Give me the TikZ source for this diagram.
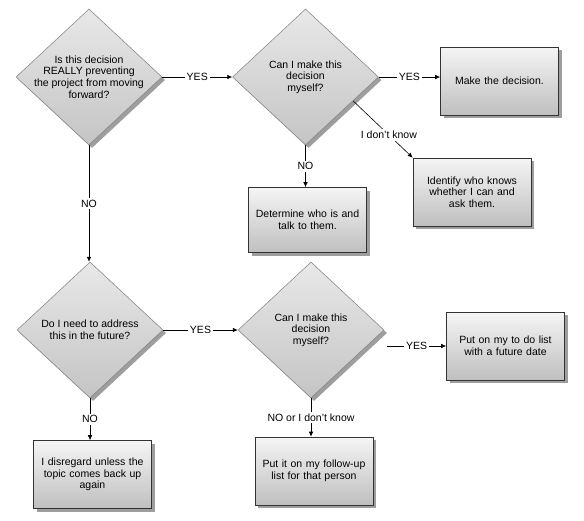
\documentclass[tikz,border=0pt]{standalone}
\usepackage{fontspec}
\setmainfont{Liberation Sans}
\usetikzlibrary{shapes.geometric,shadows,arrows.meta,calc}
\begin{document}
\begin{tikzpicture}[x=1pt,y=-1pt,
  font=\fontsize{10.5}{11.7}\selectfont,
  shd/.style={drop shadow={shadow xshift=3pt,shadow yshift=-3pt,fill=black!38,opacity=1}},
  dec/.style={diamond,draw=black!50,line width=0.5pt,top color=black!9,bottom color=black!23,
    minimum width=146pt,minimum height=136pt,inner sep=0pt,shd},
  act/.style={rectangle,draw=black!80,line width=0.6pt,top color=black!4,bottom color=black!25,
    minimum width=118pt,minimum height=68pt,text width=112pt,align=center,inner sep=0pt,shd},
  conn/.style={draw,line width=0.6pt,-{Latex[length=5pt,width=4.5pt]}},
  lab/.style={fill=white,inner sep=2pt}]
\useasboundingbox (0,0) rectangle (584,520);

% decisions
\node[dec,label={[align=center]center:Is this decision\\REALLY preventing\\the project from moving\\forward?}] (d1) at (89,77) {};
\node[dec,label={[align=center]center:Can I make this\\decision\\myself?}] (d2) at (305.5,77) {};
\node[dec,label={[align=center]center:Do I need to address\\this in the future?}] (d3) at (90,330) {};
\node[dec,label={[align=center]center:Can I make this\\decision\\myself?}] (d4) at (311,330) {};

% actions
\node[act] (mk) at (499.5,81) {Make the decision.};
\node[act] (idf) at (472,192) {Identify who knows\\whether I can and\\ask them.};
\node[act,minimum height=65pt] (det) at (307.5,220) {Determine who is and\\talk to them.};
\node[act] (todo) at (505.5,346) {Put on my to do list\\with a future date};
\node[act] (fol) at (314,471) {Put it on my follow-up\\list for that person};
\node[act] (dis) at (92.5,474.5) {I disregard unless the\\topic comes back up\\again};

% connectors
\draw[conn] (d1) -- node[lab]{YES} (d2);
\draw[conn] (d2.east) -- node[lab]{YES} (d2.east -| mk.west);
\coordinate (d2se) at ($(d2.east)!0.35!(d2.south)$);
\draw[conn] (d2se) -- node[lab,pos=0.6]{I don't know} (idf.north west);
\draw[conn] (d2.south) -- node[lab]{NO} (d2.south |- det.north);
\draw[conn] (d1.south) -- node[lab]{NO} (d1.south |- d3.north);
\draw[conn] (d3) -- node[lab]{YES} (d4);
\coordinate (d4y) at ($(d4.east |- todo.west)+(3,0)$);
\draw[conn] (d4y) -- node[lab]{YES} (todo.west);
\draw[conn] (d4.south) -- node[lab]{NO or I don't know} (d4.south |- fol.north);
\draw[conn] (d3.south) -- node[lab]{NO} (d3.south |- dis.north);
\end{tikzpicture}
\end{document}
